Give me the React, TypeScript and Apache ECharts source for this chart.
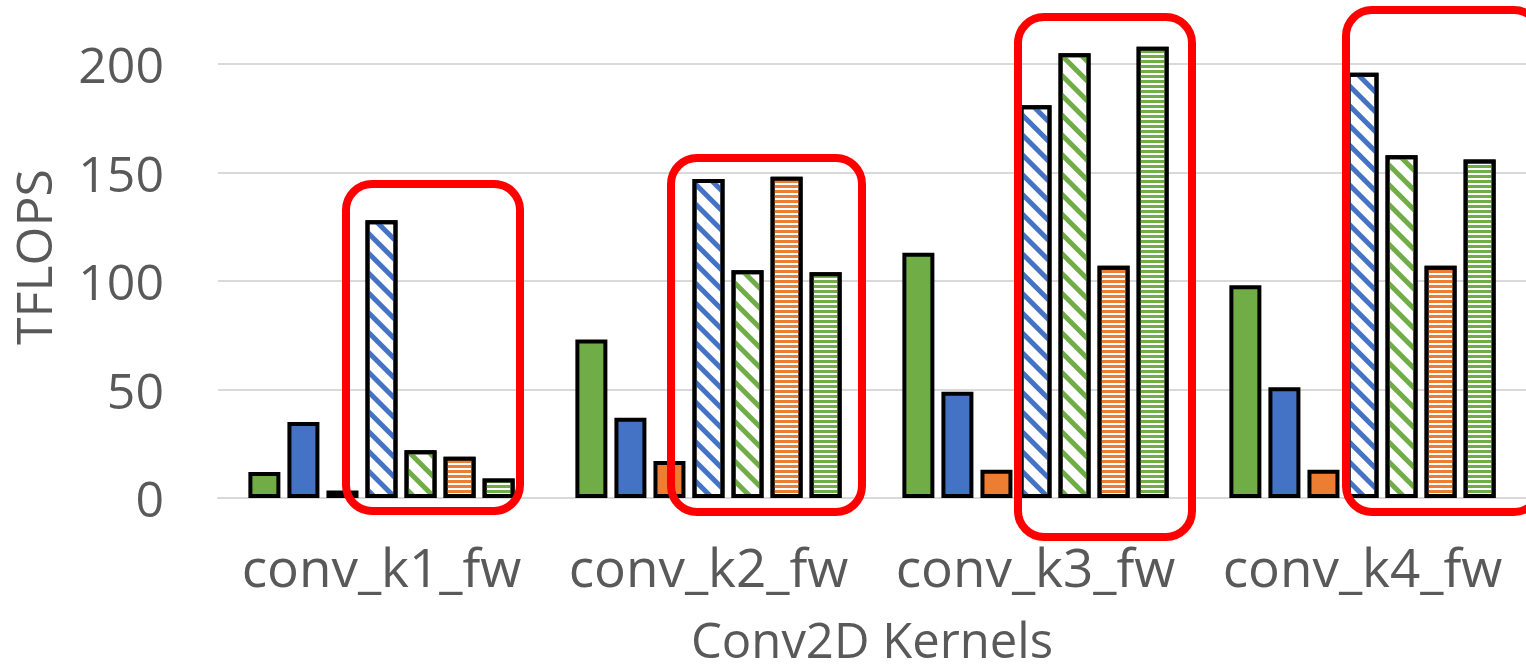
import React, { useEffect, useRef } from "react";
import * as echarts from "echarts";

const categories = ["conv_k1_fw", "conv_k2_fw", "conv_k3_fw", "conv_k4_fw"];
const yTicks = [0, 50, 100, 150, 200];

const solidGreen = [12, 73, 113, 98];
const solidBlue = [35, 37, 49, 51];
const solidOrange = [3.5, 17, 13, 13];
const diagBlue = [128, 147, 181, 196];
const diagGreen = [22, 105, 205, 158];
const horizOrange = [19, 148, 107, 107];
const horizGreen = [9, 104, 208, 156];

const GREEN = "#70AD47";
const BLUE = "#4472C4";
const ORANGE = "#ED7D31";
const TEXT = "#595959";
const FONT = "'Open Sans', 'Noto Sans', sans-serif";

const diagDecal = (color: string) => ({
  symbol: "rect",
  symbolSize: 1,
  color,
  dashArrayX: [1, 0],
  dashArrayY: [5, 9],
  rotation: Math.PI / 4,
});
const horizDecal = (color: string) => ({
  symbol: "rect",
  symbolSize: 1,
  color,
  dashArrayX: [1, 0],
  dashArrayY: [2.5, 1.5],
  rotation: 0,
});

const boxes = [
  { x: 346, y: 184, w: 174, h: 327 },
  { x: 671, y: 158, w: 191, h: 354 },
  { x: 1018, y: 17, w: 174, h: 520 },
  { x: 1346, y: 10, w: 194, h: 502 },
];

export default function App() {
  const ref = useRef<HTMLDivElement>(null);
  useEffect(() => {
    if (!ref.current) return;
    const chart = echarts.init(ref.current, undefined, { renderer: "svg" });
    const border = { borderColor: "#000", borderWidth: 4 };
    const mk = (name: string, data: number[], itemStyle: any) => ({
      name,
      type: "bar",
      data,
      barWidth: 32,
      barGap: "22%",
      clip: false,
      itemStyle: { ...border, ...itemStyle },
    });
    chart.setOption({
      animation: false,
      backgroundColor: "#fff",
      textStyle: { fontFamily: FONT },
      grid: { left: 218, right: -16, top: 64, bottom: 172, containLabel: false },
      xAxis: {
        type: "category",
        data: categories,
        name: "Conv2D Kernels",
        nameLocation: "middle",
        nameGap: 116,
        nameTextStyle: { color: TEXT, fontSize: 49, fontFamily: FONT },
        axisLine: { lineStyle: { color: "#D9D9D9", width: 2 } },
        axisTick: { show: false },
        axisLabel: { color: TEXT, fontSize: 53, margin: 42, fontFamily: FONT, interval: 0 },
      },
      yAxis: {
        type: "value",
        min: 0,
        max: 200,
        interval: 50,
        name: "TFLOPS",
        nameLocation: "middle",
        nameGap: 160,
        nameTextStyle: { color: TEXT, fontSize: 50, fontFamily: FONT, padding: [0, 0, 0, 48] },
        axisLine: { show: false },
        axisTick: { show: false },
        splitLine: { lineStyle: { color: "#D9D9D9", width: 2 } },
        axisLabel: {
          color: TEXT,
          fontSize: 50,
          margin: 54,
          fontFamily: FONT,
          formatter: (v: number) => (yTicks.includes(v) ? String(v) : ""),
        },
      },
      series: [
        mk("Solid green", solidGreen, { color: GREEN }),
        mk("Solid blue", solidBlue, { color: BLUE }),
        mk("Solid orange", solidOrange, { color: ORANGE }),
        mk("Diagonal blue", diagBlue, { color: "#fff", decal: diagDecal(BLUE) }),
        mk("Diagonal green", diagGreen, { color: "#fff", decal: diagDecal(GREEN) }),
        mk("Horizontal orange", horizOrange, { color: "#fff", decal: horizDecal(ORANGE) }),
        mk("Horizontal green", horizGreen, { color: "#fff", decal: horizDecal(GREEN) }),
      ],
      graphic: boxes.map((b) => ({
        type: "rect",
        shape: { x: b.x, y: b.y, width: b.w, height: b.h, r: 26 },
        style: { fill: "none", stroke: "#FF0000", lineWidth: 8 },
        z: 100,
      })),
    });
    return () => chart.dispose();
  }, []);
  return (
    <div
      ref={ref}
      style={{ position: "absolute", left: 0, top: 0, width: 1526, height: 670, background: "#fff" }}
    />
  );
}
